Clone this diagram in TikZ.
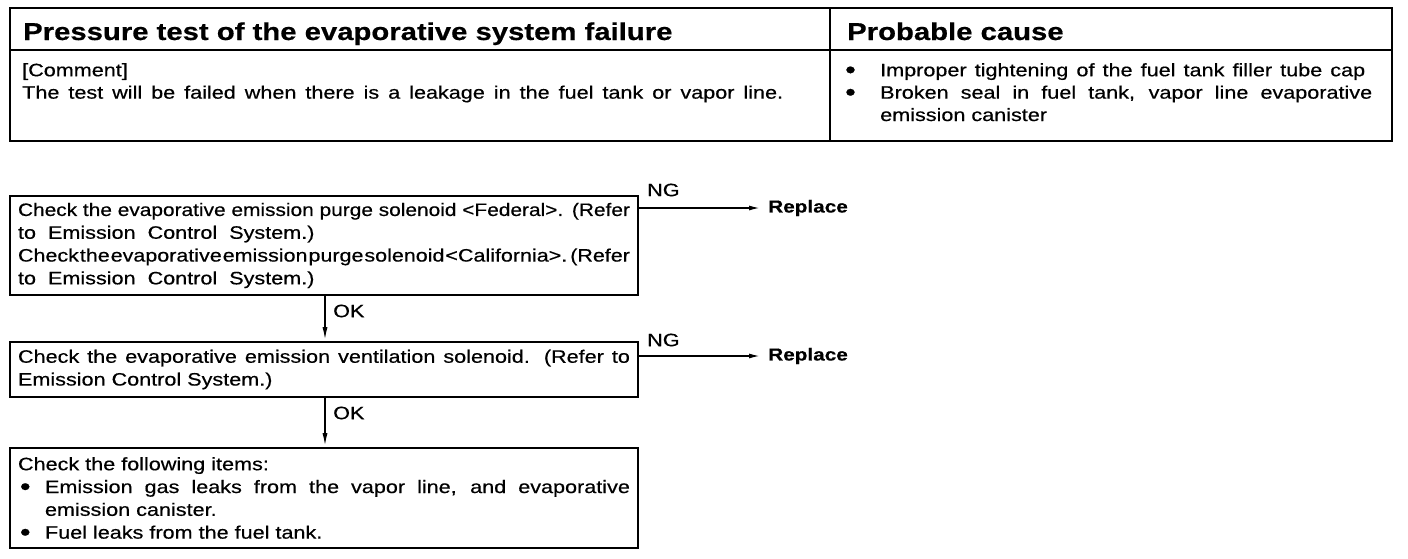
\documentclass[tikz,border=0pt]{standalone}
\usepackage{fontspec}
\setmainfont{Liberation Sans}[FakeStretch=1.2,FakeBold=0.5]
\usetikzlibrary{arrows.meta}
\newcommand{\bul}{\smash{\raisebox{-2pt}{\scalebox{1.4}{\textbullet}}}}
\newcommand{\fitline}[2]{\resizebox{#1}{\height}{#2}}
\tikzset{
  frame/.style={draw, line width=2.4pt},
  box/.style={draw, line width=1.6pt, rectangle, minimum width=628pt, inner sep=0pt,
    text width=612pt, align=justify, font=\fontsize{18}{22.8}\selectfont},
  hdr/.style={font=\fontsize{24.4}{28}\selectfont\bfseries, anchor=base west, inner sep=0pt},
  txt/.style={font=\fontsize{18}{22.4}\selectfont, inner sep=0pt},
  lbl/.style={font=\fontsize{18}{20}\selectfont, inner sep=0pt},
  rep/.style={font=\fontsize{17.3}{20}\selectfont\bfseries, inner sep=0pt, anchor=west},
  arr/.style={line width=1.5pt, -{Latex[length=11pt,width=5pt]}},
  varr/.style={line width=1.8pt, -{Latex[length=14pt,width=5pt]}}
}
\begin{document}
\begin{tikzpicture}[x=1pt,y=-1pt]
\useasboundingbox (0,0) rectangle (1408,558);
% table
\draw[frame] (10,8) rectangle (1392,141);
\draw[frame] (10,50) -- (1392,50);
\draw[frame] (830,8) -- (830,141);
\node[hdr] (h1) at (23,40) {Pressure test of the evaporative system failure};
\node[hdr] (h2) at (847,40) {Probable cause};
\node[txt, anchor=north west, align=left] (comment) at (22,63) {[Comment]\\\makebox[761pt][s]{The test will be failed when there is a leakage in the fuel tank or vapor line.}};
\node[txt, anchor=north west, text width=527pt, align=justify] (cause) at (845,63) {%
\hangindent=35pt\hangafter=1\makebox[35pt][l]{\bul}\makebox[485pt][s]{Improper tightening of the fuel tank filler tube cap}\par
\hangindent=35pt\hangafter=1\makebox[35pt][l]{\bul}Broken seal in fuel tank, vapor line evaporative\linebreak emission canister\par};
% flow
\node[box, minimum height=99pt, align=left] (b1) at (324,245.5) {\fitline{612pt}{Check the evaporative emission purge solenoid <Federal>. (Refer}\\
to\ \ Emission\ \ Control\ \ System.)\\
\fitline{612pt}{Check\hspace{1pt}the\hspace{1pt}evaporative\hspace{1pt}emission\hspace{1pt}purge\hspace{1pt}solenoid\hspace{1pt}<California>.\hspace{3pt}(Refer}\\
to\ \ Emission\ \ Control\ \ System.)};
\node[box, minimum height=55pt] (b2) at (324,369.5) {Check the evaporative emission ventilation solenoid. (Refer to\linebreak Emission Control System.)};
\node[box, minimum height=100pt] (b3) at (324,498) {Check the following items:\par
\hangindent=27pt\hangafter=1\makebox[27pt][l]{\hspace{2pt}\bul}Emission gas leaks from the vapor line, and evaporative\linebreak emission canister.\par
\makebox[27pt][l]{\hspace{2pt}\bul}Fuel leaks from the fuel tank.};
% NG branches
\node[lbl, anchor=west] (ng1) at (647,190) {NG};
\node[rep] (r1) at (768,208) {Replace};
\draw[arr] (b1.east |- r1.west) -- ([xshift=-8pt]r1.west);
\node[lbl, anchor=west] (ng2) at (647,340) {NG};
\node[rep] (r2) at (768,356) {Replace};
\draw[arr] (b2.east |- r2.west) -- ([xshift=-8pt]r2.west);
% OK arrows
\coordinate (c1) at (325,0);
\draw[varr] (b1.south -| c1) -- (b2.north -| c1);
\node[lbl, anchor=west] (ok1) at (333,311) {OK};
\draw[varr] (b2.south -| c1) -- (b3.north -| c1);
\node[lbl, anchor=west] (ok2) at (333,413) {OK};
\end{tikzpicture}
\end{document}
